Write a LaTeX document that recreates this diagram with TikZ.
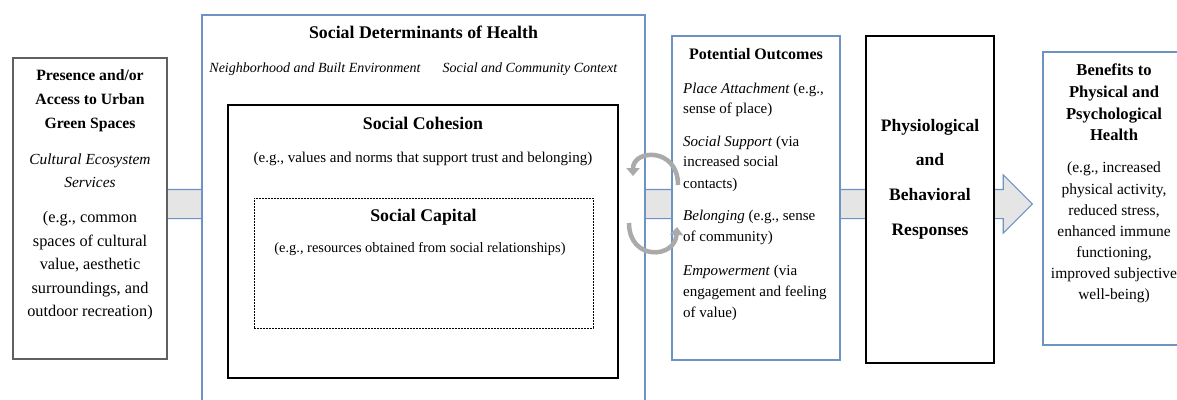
\documentclass[tikz,border=0pt]{standalone}
\usepackage{fontspec}
\setmainfont{Liberation Serif}
\usetikzlibrary{shapes.arrows,arrows.meta,positioning}
\definecolor{frameblue}{RGB}{108,147,194}
\definecolor{bandgray}{RGB}{229,229,229}
\definecolor{framegray}{RGB}{96,96,96}
\definecolor{loopgray}{RGB}{170,170,170}
\newcommand{\fsz}[2]{\fontsize{#1}{#2}\selectfont}

\tikzset{
  bluebox/.style={draw=frameblue, line width=1.2pt, fill=white, inner sep=0pt},
  blackbox/.style={draw=black, line width=1.2pt, fill=white, inner sep=0pt},
  txt/.style={inner sep=0pt, anchor=mid},
  looparrow/.style={draw=loopgray, line width=4.5pt, -{Triangle[length=8pt,width=13pt]}},
}

\begin{document}
\begin{tikzpicture}[x=1pt,y=-1pt]
    \useasboundingbox (0,0) rectangle (1177,399);

    % Broad arrow running behind the boxes
    \node[single arrow, draw=frameblue, fill=bandgray, line width=1.1pt, inner xsep=0pt, inner ysep=14pt,
          minimum height=866pt, minimum width=57pt, single arrow head extend=14.5pt,
          single arrow tip angle=90] (band) at (592,204) {};

    % Boxes
    \node[draw=framegray, line width=1.5pt, fill=white, minimum width=154pt, minimum height=301pt] (green) at (90,208.5) {};
    \node[bluebox, minimum width=443pt, minimum height=395pt] (sdoh) at (423.5,212.5) {};
    \node[blackbox, minimum width=390pt, minimum height=273pt] (cohesion) at (423,241.5) {};
    \node[draw=black, line width=0.8pt, dash pattern=on 2pt off 1pt, minimum width=339pt, minimum height=130pt] (capital) at (423.5,263) {};
    \node[bluebox, minimum width=168pt, minimum height=324pt] (outcomes) at (756,198) {};
    \node[blackbox, minimum width=128pt, minimum height=327pt] (physio) at (930,199.5) {};
    \node[bluebox, minimum width=147pt, minimum height=293pt] (benefits) at (1116.5,198.5) {};

    % Green spaces
    \foreach \t/\yy [count=\i] in {{Presence and/or}/78, {Access to Urban}/102, {Green Spaces}/126}
        \node[txt, font=\bfseries\fsz{15.7}{18}] (gh\i) at (90,\yy) {\t};
    \foreach \t/\yy [count=\i] in {{Cultural Ecosystem}/162, {Services}/185}
        \node[txt, font=\itshape\fsz{15.4}{18}] (gs\i) at (90,\yy) {\t};
    \foreach \t/\yy [count=\i] in {{(e.g., common}/220, {spaces of cultural}/244, {value, aesthetic}/267, {surroundings, and}/291, {outdoor recreation)}/314}
        \node[txt, font=\fsz{16.3}{18}] (gb\i) at (90,\yy) {\t};

    % Social determinants
    \node[txt, font=\bfseries\fsz{17.8}{20}] (sdohtitle) at (423.5,36) {Social Determinants of Health};
    \node[txt, font=\itshape\fsz{14}{16}] (built) at (315,70) {Neighborhood and Built Environment};
    \node[txt, font=\itshape\fsz{14}{16}] (community) at (530,70) {Social and Community Context};
    \node[txt, font=\bfseries\fsz{17.8}{20}] (cohtitle) at (423,127) {Social Cohesion};
    \node[txt, font=\fsz{15}{16}] (cohnote) at (423,160) {(e.g., values and norms that support trust and belonging)};
    \node[txt, font=\bfseries\fsz{17.8}{20}] (captitle) at (423.5,219) {Social Capital};
    \node[txt, font=\fsz{14.4}{16}] (capnote) at (420,250) {(e.g., resources obtained from social relationships)};

    % Potential outcomes
    \node[txt, font=\bfseries\fsz{16}{19}] (outtitle) at (756,57) {Potential Outcomes};
    \foreach \t/\yy [count=\i] in {{\textit{Place Attachment} (e.g.,}/91, {sense of place)}/111,
            {\textit{Social Support} (via}/144, {increased social}/164, {contacts)}/186,
            {\textit{Belonging} (e.g., sense}/218, {of community)}/239,
            {\textit{Empowerment} (via}/273, {engagement and feeling}/294, {of value)}/315}
        \node[txt, anchor=mid west, font=\fsz{15}{18}] (out\i) at (683,\yy) {\t};

    % Responses
    \foreach \t/\yy [count=\i] in {Physiological/129, and/163, Behavioral/198, Responses/233}
        \node[txt, font=\bfseries\fsz{17.5}{20}] (phy\i) at (930,\yy) {\t};

    % Health benefits
    \foreach \t/\yy [count=\i] in {{Benefits to}/73, {Physical and}/95, {Psychological}/117, {Health}/138}
        \node[txt, font=\bfseries\fsz{16.6}{19}] (bh\i) at (1114,\yy) {\t};
    \foreach \t/\yy [count=\i] in {{(e.g., increased}/170, {physical activity,}/192, {reduced stress,}/213,
            {enhanced immune}/234, {functioning,}/255, {improved subjective}/276, {well-being)}/297}
        \node[txt, font=\fsz{15.5}{18}] (bb\i) at (1114,\yy) {\t};

    % Feedback loops
    \coordinate (upstart) at (678,185);
    \coordinate (upend) at (633,176);
    \coordinate (lowstart) at (629,223);
    \coordinate (lowend) at (677,227);
    \draw[looparrow] (upstart) .. controls (678,147) and (633,149) .. (upend);
    \draw[looparrow] (lowstart) .. controls (629,261) and (675,259) .. (lowend);
\end{tikzpicture}
\end{document}
